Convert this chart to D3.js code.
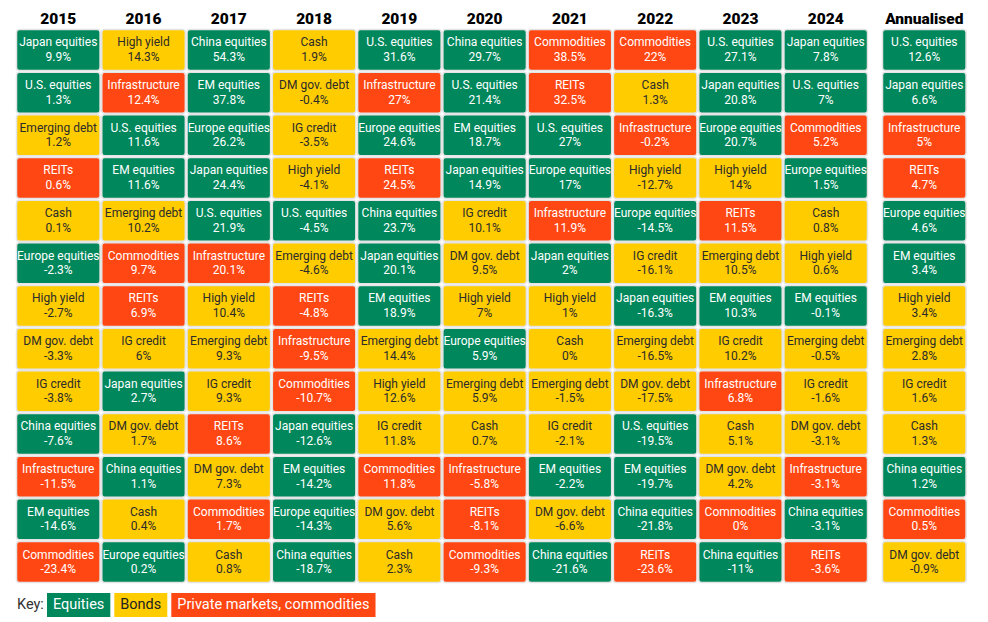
<!DOCTYPE html>
<html><head><meta charset="utf-8">
<script src="https://cdn.jsdelivr.net/npm/d3@7"></script>
<style>body{margin:0;background:#fff;}svg{display:block;font-family:Roboto,"Liberation Sans",Arial,sans-serif;}</style>
</head><body><svg id="chart" width="988" height="622"></svg>
<script>
const columns = ["2015","2016","2017","2018","2019","2020","2021","2022","2023","2024","Annualised"];
const equities = ["Japan equities","U.S. equities","Europe equities","China equities","EM equities"];
const bonds = ["Emerging debt","Cash","High yield","DM gov. debt","IG credit"];
const privateMarkets = ["REITs","Infrastructure","Commodities"];
const assetNames = [
 ["Japan equities","U.S. equities","Emerging debt","REITs","Cash","Europe equities","High yield","DM gov. debt","IG credit","China equities","Infrastructure","EM equities","Commodities"],
 ["High yield","Infrastructure","U.S. equities","EM equities","Emerging debt","Commodities","REITs","IG credit","Japan equities","DM gov. debt","China equities","Cash","Europe equities"],
 ["China equities","EM equities","Europe equities","Japan equities","U.S. equities","Infrastructure","High yield","Emerging debt","IG credit","REITs","DM gov. debt","Commodities","Cash"],
 ["Cash","DM gov. debt","IG credit","High yield","U.S. equities","Emerging debt","REITs","Infrastructure","Commodities","Japan equities","EM equities","Europe equities","China equities"],
 ["U.S. equities","Infrastructure","Europe equities","REITs","China equities","Japan equities","EM equities","Emerging debt","High yield","IG credit","Commodities","DM gov. debt","Cash"],
 ["China equities","U.S. equities","EM equities","Japan equities","IG credit","DM gov. debt","High yield","Europe equities","Emerging debt","Cash","Infrastructure","REITs","Commodities"],
 ["Commodities","REITs","U.S. equities","Europe equities","Infrastructure","Japan equities","High yield","Cash","Emerging debt","IG credit","EM equities","DM gov. debt","China equities"],
 ["Commodities","Cash","Infrastructure","High yield","Europe equities","IG credit","Japan equities","Emerging debt","DM gov. debt","U.S. equities","EM equities","China equities","REITs"],
 ["U.S. equities","Japan equities","Europe equities","High yield","REITs","Emerging debt","EM equities","IG credit","Infrastructure","Cash","DM gov. debt","Commodities","China equities"],
 ["Japan equities","U.S. equities","Commodities","Europe equities","Cash","High yield","EM equities","Emerging debt","IG credit","DM gov. debt","Infrastructure","China equities","REITs"],
 ["U.S. equities","Japan equities","Infrastructure","REITs","Europe equities","EM equities","High yield","Emerging debt","IG credit","Cash","China equities","Commodities","DM gov. debt"]
];
const assetReturns = [
 [9.9,1.3,1.2,0.6,0.1,-2.3,-2.7,-3.3,-3.8,-7.6,-11.5,-14.6,-23.4],
 [14.3,12.4,11.6,11.6,10.2,9.7,6.9,6,2.7,1.7,1.1,0.4,0.2],
 [54.3,37.8,26.2,24.4,21.9,20.1,10.4,9.3,9.3,8.6,7.3,1.7,0.8],
 [1.9,-0.4,-3.5,-4.1,-4.5,-4.6,-4.8,-9.5,-10.7,-12.6,-14.2,-14.3,-18.7],
 [31.6,27,24.6,24.5,23.7,20.1,18.9,14.4,12.6,11.8,11.8,5.6,2.3],
 [29.7,21.4,18.7,14.9,10.1,9.5,7,5.9,5.9,0.7,-5.8,-8.1,-9.3],
 [38.5,32.5,27,17,11.9,2,1,0,-1.5,-2.1,-2.2,-6.6,-21.6],
 [22,1.3,-0.2,-12.7,-14.5,-16.1,-16.3,-16.5,-17.5,-19.5,-19.7,-21.8,-23.6],
 [27.1,20.8,20.7,14,11.5,10.5,10.3,10.2,6.8,5.1,4.2,0,-11],
 [7.8,7,5.2,1.5,0.8,0.6,-0.1,-0.5,-1.6,-3.1,-3.1,-3.1,-3.6],
 [12.6,6.6,5,4.7,4.6,3.4,3.4,2.8,1.6,1.3,1.2,0.5,-0.9]
];
const keyLabels = ["Equities","Bonds","Private markets, commodities"];

const GREEN="#00875c", YELLOW="#ffcc00", ORANGE="#ff4714";
const color = d3.scaleOrdinal()
  .domain([...equities,...bonds,...privateMarkets])
  .range([...equities.map(()=>GREEN),...bonds.map(()=>YELLOW),...privateMarkets.map(()=>ORANGE)]);
const keyColor = d3.scaleOrdinal().domain(keyLabels).range([GREEN,YELLOW,ORANGE]);

const svg = d3.select("#chart");
const years = columns.slice(0,10);
const x = d3.scaleBand().domain(years).range([16.5, 867.5]).paddingInner(0.02).paddingOuter(0);
const xPos = c => c === "Annualised" ? 882.5 : x(c);
const cellW = x.bandwidth();
const ranks = d3.range(13);
const y = d3.scaleBand().domain(ranks).range([29.5, 582.5]).paddingInner(0.04).paddingOuter(0);
const cellH = y.bandwidth();

// headers
svg.selectAll("text.hdr").data(columns).join("text")
  .attr("class","hdr")
  .attr("x", c => xPos(c) + cellW/2)
  .attr("y", 23.5)
  .attr("text-anchor","middle")
  .attr("font-size",15.5).attr("font-weight",900).attr("fill","#000")
  .text(d=>d);

const cells = [];
columns.forEach((c,ci)=>{
  assetNames[ci].forEach((n,ri)=>cells.push({col:c,rank:ri,name:n,value:assetReturns[ci][ri]}));
});

const g = svg.selectAll("g.cell").data(cells).join("g")
  .attr("class","cell")
  .attr("transform", d=>`translate(${xPos(d.col)},${y(d.rank)})`);
g.append("rect")
  .attr("width",cellW).attr("height",cellH).attr("rx",3)
  .attr("fill",d=>color(d.name)).attr("stroke","#e4e4e4").attr("stroke-width",1.5);
const txt = d => color(d.name)===YELLOW ? "#2b2b2b" : "#ffffff";
g.append("text").attr("x",cellW/2).attr("y",cellH/2-3.5)
  .attr("text-anchor","middle").attr("font-size",12).attr("fill",txt)
  .text(d=>d.name);
g.append("text").attr("x",cellW/2).attr("y",cellH/2+11)
  .attr("text-anchor","middle").attr("font-size",12).attr("fill",txt)
  .text(d=>String(d.value)+"%");

// key
svg.append("text").attr("x",17).attr("y",609).attr("font-size",14.5).attr("fill","#333").text("Key:");
let kx = 47;
const kg = svg.selectAll("g.key").data(keyLabels).join("g").attr("class","key");
kg.append("text").attr("x",6).attr("y",16).attr("font-size",14.5)
  .attr("fill",d=>keyColor(d)===YELLOW?"#222":"#fff").text(d=>d);
kg.each(function(){
  const sel = d3.select(this);
  const t = sel.select("text").node().getComputedTextLength();
  sel.insert("rect","text").attr("width",t+12).attr("height",24).attr("fill",d=>keyColor(d));
  sel.attr("transform",`translate(${kx},593)`);
  kx += t + 12 + 4;
});
</script></body></html>
